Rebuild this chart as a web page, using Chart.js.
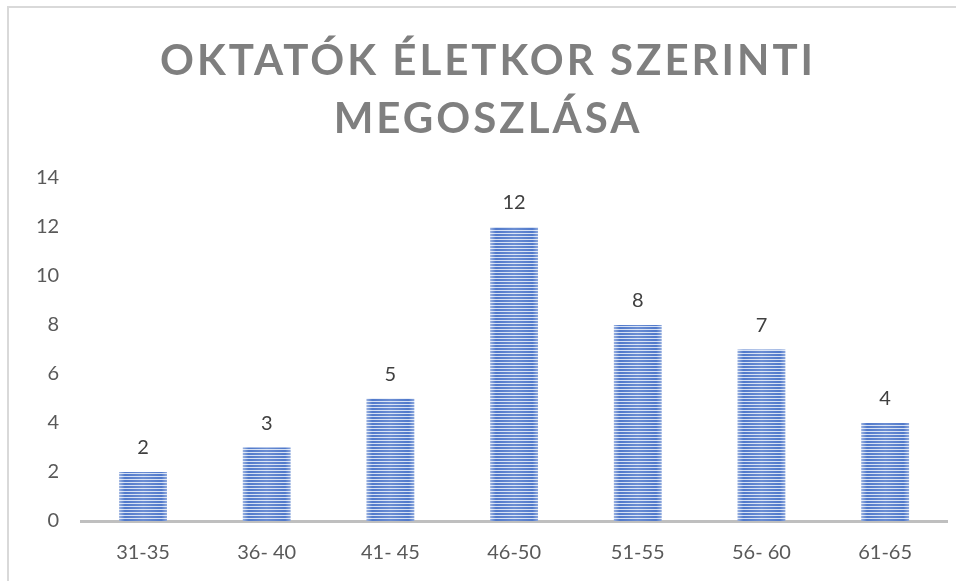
<!DOCTYPE html>
<html>
<head>
<meta charset="utf-8">
<script src="https://cdn.jsdelivr.net/npm/chart.js@4.4.1/dist/chart.umd.min.js"></script>
<style>
    html, body { margin: 0; padding: 0; background: #ffffff; overflow: hidden; }
    #frame {
        position: absolute; left: 7px; top: 6px; width: 1000px; height: 1000px;
        border-left: 2px solid #d9d9d9; border-top: 2px solid #d9d9d9;
    }
    #wrap { position: absolute; left: 0; top: 0; width: 956px; height: 581px; }
</style>
</head>
<body>
<div id="frame"></div>
<div id="wrap"><canvas id="myChart" width="956" height="581"></canvas></div>
<script>
// Datos del gráfico
const titleLines = ['OKTATÓK ÉLETKOR SZERINTI', 'MEGOSZLÁSA'];
const categories = ['31-35', '36- 40', '41- 45', '46-50', '51-55', '56- 60', '61-65'];
const values = [2, 3, 5, 12, 8, 7, 4];
const yTicks = [0, 2, 4, 6, 8, 10, 12, 14];

// Relleno rayado de las barras
function barFill(context) {
    const chart = context.chart;
    const xScale = chart.scales.x;
    if (!chart.chartArea || !xScale) return '#4a78cc';
    const step = (chart.chartArea.right - chart.chartArea.left) / categories.length;
    const barW = step * 0.387;
    const left = xScale.getPixelForValue(context.dataIndex) - barW / 2;
    const w = Math.max(2, Math.round(barW));
    const c = document.createElement('canvas');
    c.width = w;
    c.height = 3;
    const p = c.getContext('2d');
    p.fillStyle = '#4772c8';
    p.fillRect(0, 0, w, 2);
    p.fillStyle = '#d3dff3';
    p.fillRect(0, 2, w, 1);
    const g = p.createLinearGradient(0, 0, w, 0);
    g.addColorStop(0, 'rgba(255,255,255,0.45)');
    g.addColorStop(0.12, 'rgba(255,255,255,0.05)');
    g.addColorStop(0.5, 'rgba(255,255,255,0.2)');
    g.addColorStop(0.88, 'rgba(255,255,255,0.05)');
    g.addColorStop(1, 'rgba(255,255,255,0.4)');
    p.fillStyle = g;
    p.fillRect(0, 0, w, 3);
    const pattern = chart.ctx.createPattern(c, 'repeat');
    pattern.setTransform(new DOMMatrix().translate(left, 0));
    return pattern;
}

// Título con espaciado entre letras
const titlePlugin = {
    id: 'spacedTitle',
    afterDraw(chart) {
        const ctx = chart.ctx;
        ctx.save();
        ctx.font = 'bold 42px Lato';
        ctx.fillStyle = '#7f7f7f';
        ctx.textAlign = 'center';
        ctx.textBaseline = 'alphabetic';
        ctx.letterSpacing = '3px';
        ctx.fillText(titleLines[0], 488, 75);
        ctx.fillText(titleLines[1], 488, 133);
        ctx.restore();
    }
};

// Etiquetas de valores sobre las barras
const valueLabels = {
    id: 'valueLabels',
    afterDatasetsDraw(chart) {
        const ctx = chart.ctx;
        const meta = chart.getDatasetMeta(0);
        ctx.save();
        ctx.font = '20px Lato';
        ctx.fillStyle = '#404040';
        ctx.textAlign = 'center';
        ctx.textBaseline = 'bottom';
        meta.data.forEach((bar, i) => {
            ctx.fillText(String(values[i]), bar.x, bar.y - 14);
        });
        ctx.restore();
    }
};

var ctx = document.getElementById('myChart').getContext('2d');
var myChart = new Chart(ctx, {
    type: 'bar',
    data: {
        labels: categories,
        datasets: [{
            data: values,
            backgroundColor: barFill,
            borderWidth: 0,
            categoryPercentage: 1,
            barPercentage: 0.387
        }]
    },
    plugins: [titlePlugin, valueLabels],
    options: {
        responsive: false,
        animation: false,
        layout: {
            padding: { top: 178, right: 9, bottom: -4, left: 14 }
        },
        plugins: {
            legend: { display: false },
            tooltip: { enabled: false },
            title: { display: false }
        },
        scales: {
            x: {
                grid: { display: false, drawTicks: false },
                border: { display: true, color: '#bfbfbf', width: 3 },
                ticks: {
                    color: '#595959',
                    font: { family: 'Lato', size: 20 },
                    padding: 20,
                    maxRotation: 0
                }
            },
            y: {
                min: 0,
                max: 14,
                afterBuildTicks: (axis) => {
                    axis.ticks = yTicks.map(v => ({ value: v }));
                },
                grid: { display: false, drawTicks: false },
                border: { display: false },
                ticks: {
                    color: '#595959',
                    font: { family: 'Lato', size: 20 },
                    padding: 22
                }
            }
        }
    }
});
</script>
</body>
</html>
